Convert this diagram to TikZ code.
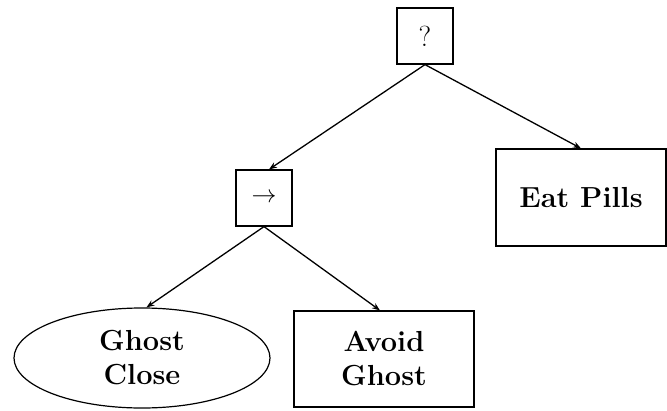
\documentclass[tikz,border=0pt]{standalone}
\usetikzlibrary{arrows.meta,shapes.geometric,calc}
\begin{document}
\begin{tikzpicture}[x=1pt,y=-1pt,
  every node/.style={line width=1.2pt,inner sep=0pt,align=center,font=\fontsize{29}{34}\selectfont},
  ctrl/.style={draw,minimum width=56pt,minimum height=56pt},
  act/.style={draw,font=\fontsize{29}{34}\selectfont\bfseries},
  cond/.style={draw,ellipse,font=\fontsize{29}{34}\selectfont\bfseries},
  link/.style={line width=1.3pt,-{Stealth[length=8pt,width=6pt]}}]
\useasboundingbox (0,0) rectangle (667,410);
\node[ctrl] (sel) at (425,36) {?};
\node[ctrl] (seq) at (264,198) {$\rightarrow$};
\node[act,minimum width=170pt,minimum height=97pt] (eat) at (581,197.5) {Eat Pills};
\node[cond,minimum width=256pt,minimum height=100pt] (gc) at (142,358) {Ghost\\Close};
\node[act,minimum width=180pt,minimum height=96pt] (ag) at (384,359) {Avoid\\Ghost};
\draw[link] (sel.south) -- ($(seq.north)+(5,0)$);
\draw[link] (sel.south) -- (eat.north);
\draw[link] (seq.south) -- (gc.85);
\draw[link] (seq.south) -- ($(ag.north)+(-4,0)$);
\end{tikzpicture}
\end{document}
